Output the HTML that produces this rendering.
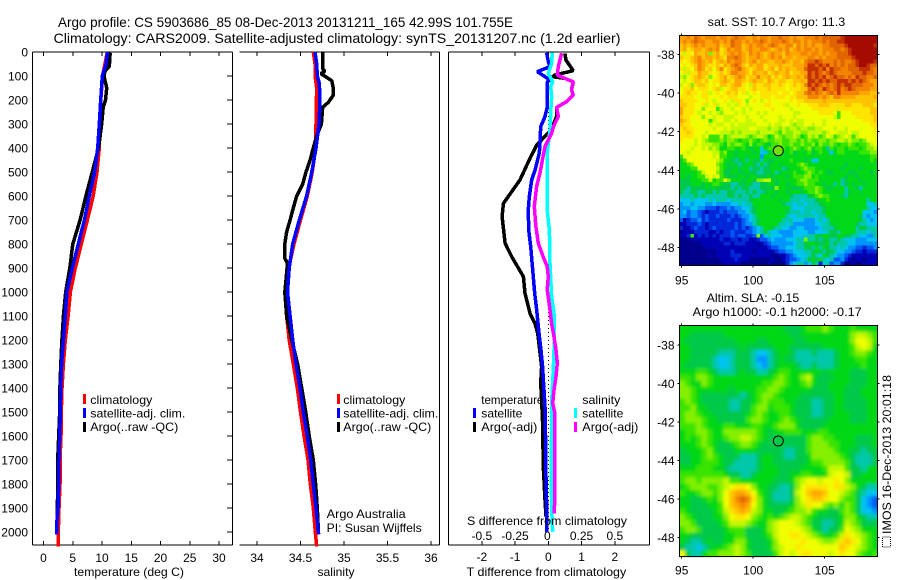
<!DOCTYPE html>
<html lang="en">
<head>
<meta charset="utf-8">
<title>Argo profile 5903686_85</title>
<style>
html,body{margin:0;padding:0;background:#fff;}
svg{display:block;font-family:"Liberation Sans",sans-serif;font-size:12px;fill:#000;}
</style>
</head>
<body>
<svg id="fig" width="900" height="580" viewBox="0 0 900 580" xmlns="http://www.w3.org/2000/svg">
  <defs>
    <filter id="soft" x="0" y="0" width="100%" height="100%" filterUnits="objectBoundingBox"><feGaussianBlur stdDeviation="1.5"/></filter>
  </defs>
  <rect x="0" y="0" width="900" height="580" fill="#fff"/>
  <text x="58" y="27" font-size="14" textLength="455" lengthAdjust="spacingAndGlyphs">Argo profile: CS 5903686_85 08-Dec-2013 20131211_165 42.99S 101.755E</text>
  <text x="53.5" y="43" font-size="14" textLength="567" lengthAdjust="spacingAndGlyphs">Climatology: CARS2009. Satellite-adjusted climatology: synTS_20131207.nc (1.2d earlier)</text>

  <g id="sst-map"></g>
  <g id="sla-map"></g>
  <g id="panels"></g>

  <text x="129" y="576" text-anchor="middle" textLength="110" lengthAdjust="spacingAndGlyphs">temperature (deg C)</text>
  <text x="336" y="576" text-anchor="middle" textLength="37" lengthAdjust="spacingAndGlyphs">salinity</text>
  <text x="466.7" y="576" textLength="159.5" lengthAdjust="spacingAndGlyphs">T difference from climatology</text>
  <text x="467" y="525" textLength="160" lengthAdjust="spacingAndGlyphs">S difference from climatology</text>

  <g>
    <rect x="83" y="394" width="3" height="10" fill="#ff0000"/>
    <text x="90.3" y="404" textLength="62" lengthAdjust="spacingAndGlyphs">climatology</text>
    <rect x="83" y="408" width="3" height="10" fill="#0000ff"/>
    <text x="90.3" y="417.5" textLength="95" lengthAdjust="spacingAndGlyphs">satellite-adj. clim.</text>
    <rect x="83" y="422" width="3" height="10" fill="#000"/>
    <text x="90.3" y="431" textLength="88" lengthAdjust="spacingAndGlyphs">Argo(..raw -QC)</text>
  </g>
  <g>
    <rect x="337" y="394" width="3" height="10" fill="#ff0000"/>
    <text x="343.3" y="404" textLength="62" lengthAdjust="spacingAndGlyphs">climatology</text>
    <rect x="337" y="408" width="3" height="10" fill="#0000ff"/>
    <text x="343.3" y="417.5" textLength="95" lengthAdjust="spacingAndGlyphs">satellite-adj. clim.</text>
    <rect x="337" y="422" width="3" height="10" fill="#000"/>
    <text x="343.3" y="431" textLength="88" lengthAdjust="spacingAndGlyphs">Argo(..raw -QC)</text>
    <text x="326.7" y="518" textLength="79" lengthAdjust="spacingAndGlyphs">Argo Australia</text>
    <text x="326.7" y="532" textLength="95" lengthAdjust="spacingAndGlyphs">PI: Susan Wijffels</text>
  </g>
  <g id="diff-legend">
    <text x="481.3" y="404" textLength="62" lengthAdjust="spacingAndGlyphs">temperature</text>
    <rect x="473" y="408" width="3" height="10" fill="#0000ff"/>
    <text x="481.3" y="417.5" textLength="41" lengthAdjust="spacingAndGlyphs">satellite</text>
    <rect x="473" y="422" width="3" height="10" fill="#000"/>
    <text x="481.3" y="431" textLength="56" lengthAdjust="spacingAndGlyphs">Argo(-adj)</text>
    <text x="582.3" y="404" textLength="38" lengthAdjust="spacingAndGlyphs">salinity</text>
    <rect x="574" y="408" width="3" height="10" fill="#00ffff"/>
    <text x="582.3" y="417.5" textLength="41" lengthAdjust="spacingAndGlyphs">satellite</text>
    <rect x="574" y="422" width="3" height="10" fill="#ff00ff"/>
    <text x="582.3" y="431" textLength="56" lengthAdjust="spacingAndGlyphs">Argo(-adj)</text>
  </g>

  <text x="707.7" y="26" textLength="137.5" lengthAdjust="spacingAndGlyphs">sat. SST: 10.7 Argo: 11.3</text>
  <text x="706.7" y="302" textLength="92.5" lengthAdjust="spacingAndGlyphs">Altim. SLA: -0.15</text>
  <text x="692.7" y="316" textLength="169" lengthAdjust="spacingAndGlyphs">Argo h1000: -0.1 h2000: -0.17</text>

  <g>
    <rect x="882.5" y="537" width="8" height="10" fill="none" stroke="#000" stroke-width="1" stroke-dasharray="1 1" shape-rendering="crispEdges"/>
    <text transform="translate(891,534) rotate(-90)" textLength="159" lengthAdjust="spacingAndGlyphs">IMOS 16-Dec-2013 20:01:18</text>
  </g>
</svg>
<script>
/* ---------- temperature panel ---------- */
const tempClimDepth = [0,100,200,300,400,500,600,700,800,900,1000,1100,1200,1300,1400,1500,1600,1700,1800,1900,2000,2060];
const tempClimValues = [10.9,10.1,9.8,9.66,9.54,9.15,8.5,7.5,6.46,5.44,4.6,4.2,3.73,3.4,3.16,3.05,3.0,2.82,2.82,2.65,2.53,2.5];
const tempSatDepth = [0,50,100,200,300,400,500,600,700,800,900,1000,1100,1200,1300,1400,1500,1600,1700,1800,1900,1950,2010];
const tempSatValues = [10.9,10.7,10.05,9.78,9.54,9.26,8.75,7.83,7.0,5.95,4.93,4.0,3.73,3.4,3.1,2.94,2.87,2.77,2.65,2.6,2.48,2.3,2.28];
const tempArgoDepth = [3,60,80,100,150,200,230,300,400,500,600,700,800,900,1000,1100,1200,1300,1400,1500,1600,1700,1800,1900,1950];
const tempArgoValues = [11.4,11.25,10.5,10.35,10.8,10.6,10.2,9.95,9.4,8.35,7.25,6.25,5.0,4.5,3.8,3.4,3.15,2.95,2.8,2.77,2.6,2.43,2.42,2.37,2.35];

/* ---------- salinity panel ---------- */
const salClimDepth = [0,50,100,150,200,300,400,500,600,700,800,900,1000,1100,1200,1300,1400,1500,1600,1700,1800,1900,2000,2060];
const salClimValues = [34.647,34.667,34.667,34.686,34.683,34.678,34.675,34.636,34.578,34.5,34.425,34.364,34.35,34.34,34.37,34.417,34.463,34.5,34.54,34.586,34.613,34.647,34.67,34.686];
const salSatDepth = [0,50,100,130,200,300,400,500,600,700,800,900,1000,1100,1200,1300,1400,1500,1600,1700,1800,1900,2000,2010];
const salSatValues = [34.667,34.686,34.693,34.716,34.724,34.713,34.678,34.63,34.57,34.486,34.41,34.37,34.35,34.38,34.41,34.448,34.494,34.532,34.578,34.617,34.647,34.678,34.705,34.71];
const salArgoDepth = [3,70,80,90,120,150,180,210,230,300,350,400,450,500,550,600,650,700,750,800,860,880,950,1000,1050,1100,1200,1300,1400,1500,1600,1700,1800,1900,1990];
const salArgoValues = [34.755,34.755,34.78,34.735,34.86,34.877,34.877,34.82,34.755,34.74,34.686,34.647,34.61,34.563,34.525,34.456,34.417,34.38,34.34,34.32,34.32,34.35,34.333,34.32,34.33,34.34,34.4,34.467,34.514,34.56,34.6,34.647,34.674,34.693,34.705];

/* ---------- difference panel ---------- */
const dTempSatDepth = [3,40,61,82,100,117,124,172,228,269,311,380,422,492,533,603,658,742,811,908,1006,1075,1172,1242,1311,1408,1478,1617,1769,1881,1999];
const dTempSatValues = [-0.05,0,0.05,-0.33,-0.13,0.05,-0.03,-0.03,-0.03,-0.1,-0.23,-0.25,-0.27,-0.4,-0.5,-0.57,-0.6,-0.59,-0.53,-0.47,-0.41,-0.35,-0.28,-0.22,-0.17,-0.13,-0.1,-0.08,-0.07,-0.05,-0.05];
const dTempArgoDepth = [6,33,78,96,103,110,124,158,179,207,231,269,325,388,443,533,631,686,797,853,936,1006,1061,1089,1131,1172,1228,1311,1381,1450,1547,1728,1867,1936];
const dTempArgoValues = [0.5,0.53,0.75,0.2,0.13,0.5,0.75,0.7,0.75,0.55,0.25,0.25,0.08,-0.35,-0.55,-0.85,-1.35,-1.39,-1.3,-1.1,-0.75,-0.7,-0.6,-0.55,-0.4,-0.32,-0.27,-0.2,-0.23,-0.2,-0.17,-0.15,-0.1,-0.07];
const dSalSatDepth = [3,47,89,124,144,186,256,325,422,519,658,742,881,1019,1089,1242,1311,1464,1547,1686,1825,1936,1999];
const dSalSatValues = [0.03,0.025,0,0.033,0.018,0.025,0.018,0.013,-0.008,-0.008,-0.008,0.008,0.013,0.025,0.043,0.043,0.038,0.025,0.025,0.023,0.023,0.028,0.033];
const dSalArgoDepth = [5,61,96,110,124,158,179,207,231,269,311,339,394,505,561,644,728,797,853,894,936,992,1033,1075,1131,1186,1242,1297,1353,1408,1464,1505,1547,1686,1825,1922];
const dSalArgoValues = [0.1,0.075,0.068,0.125,0.188,0.175,0.188,0.138,0.063,0.075,0.038,0.025,-0.025,-0.063,-0.088,-0.105,-0.093,-0.075,-0.038,-0.008,0,-0.008,0.003,0.013,0.025,0.043,0.058,0.068,0.058,0.043,0.033,0.05,0.05,0.05,0.05,0.045];

/* ---------- tick labels ---------- */
const depthTicks = [0,100,200,300,400,500,600,700,800,900,1000,1100,1200,1300,1400,1500,1600,1700,1800,1900,2000];
const tempTicks = [0,5,10,15,20,25,30];
const salTicks = [34,34.5,35,35.5,36];
const dTempTicks = [-2,-1,0,1,2];
const dSalTicks = [-0.5,-0.25,0,0.25,0.5];
const lonTicks = [95,100,105];
const latTicks = [-38,-40,-42,-44,-46,-48];

/* ---------- maps: one letter per cell, a (lowest) .. t (highest) ---------- */
const sstRows = [
"ppqprqpqq qpqqpqrqq ppqpqqpqq rqqpqppqq qrqrrrrrs ttttttttt",
"pqpqrqqpp qqpqprqqp qpqqrqpqq qrqpqqpqp qqqrqrrss ttttttttt",
"opopqpqpp pqopprqqo pqpqqpqrq ppqqoqpqp qppqqrrrr sttttttts",
"opnoppopq pqnoqpqqo pqppqqpop qpqopqpqq pqpqqqrrq rsttttttt",
"nlnmpoopk opnopqpqp oqpqpopqp poqpppqqp qqpqpqqrr rsttttttt",
"onnopqopp oponqqrqp oppqpopqp qoppopppq qpqpqqqrr rrstttttt",
"nmnopqpop nopoqpqqp opqoppoop pqpoppoqr rsrqqqrqr qqrstttts",
"mnmnoqpon nonpoqrqo npoppnooo pooopppqs srsrsqrqr qrrsttsrr",
"nlnmoqpno moqnopqrp onoppnopn popoopprs ssrsqsrrq qrrrsssrq",
"mnlnnpoon mnonoqqpp onpoopnop oopnoopps rsrqrsrqq qqrrrsrrq",
"lkmnoponk mnopnopqp nooqoopno nopoopoqs rsrsqrsrr qrqsrrqqr",
"mlmnoonom nnoponppo nopoonpon oonnoopos srsrsrrss srsrsrqpp",
"lmnknoonm nmoonoppn mlonnoonn onmnonoqs rsrqrqrsr ssrrrqqqp",
"mnnomnnnm nolmnoonn mnonnnonn nnmnnnoor srqsrqrsq rsrqqqqpp",
"mnonnmnnl mnmnonomn lmnmnnnnn mnnmnooqr qrqpqrqsq qqqqpppoo",
"nnnnmmnnm mmnmnnnmm mlmmnnnmn nnmnnoooq qqpqpoqqp pppooooop",
"onnnnmmnm lmmnmlnnm kmnmlmnmm mmmnmnnoo ooopooooo ooooooooo",
"oonnmmnlm nlmmlmlnm lmmmmnnmm mnlmmnmmn nnooonnnn oonnnooon",
"pnnnmmkmm mjlmmlmml mlmmmmmnm mmmlmmmmm nnnnnnnnn nnnnnnnoo",
"pnnnmlmml mlkmmmlml mmmlmlmmm mmmmllmmm mmnnnnmjm mmnnnnnoo",
"onnmmmkmm lmmlllmmm lmmmlmmmm lmmmlmmmm mmmmmmljm mmmnnnnno",
"ponmmmmmj lmmllmlmm llmmmlmmm llmlmllmm mmmlmmmmm mmmmmnnno",
"onnmmmmml mllmmlmll lllmmmlml lmmlkllmm lmmlmmmmm mmmmmmmnn",
"nonnmmmmm lmmlmllll lmmlllkll klkllkllk kllmmmlmm lmmmmmmmn",
"nnonmmmlm mmlllklkl lllkllllk jlkkllkkl lllklmmll lmllmmmmm",
"nnnnmmlmj jjljkllll kjkllkijl kjkklkijl kljkmljkl mljlmmmmm",
"nmmmlmlkj jjkjkkjij jkjijkjjk kjjkkjkjk jjkkjkkll klkkjkmmm",
"mmmmlmlll kkjikjkkj ikijjihjj kjjkjjkjj kikjjkjij jkjijjklm",
"mmmlmmlmk lkiijjiij ihiifijjj ijijkjijk ijjigjijj ijjjijkkl",
"mmlmmmmmm lljkiihii iihiffhii jiijhiiij hijiifijj iiiijjjkk",
"jmmmmmmmm lmjjiihii hiiieiiih iiiiiiiii iiiiiiiii iiiiiiijj",
"ijmmmmmmm mlkiihghi gihhgihhi iiijiiihi ffiiiiiii iiiiiiiji",
"iijkmmmmm mkjihihgh iihgighii hiiiijkji iiiiiiiii hiiiiiiii",
"iiijjmmmm mljihhihi ighhghhii ighiiijkj jiiiiiiih iiiihiiii",
"iiiiijlmm mkjhhiihh ihhgghhig hiiijiijk jijihhiii ihhiiiihi",
"iihiijjlm lmjihhhii hiihhhihi iihijjjkk ijiiiiiii hiihiiiii",
"hhhiiijjl ijjmkiiih iihkkllih iiiiijkkj jjiiiiiig hiiihiiii",
"hhhiiihii jjihhgghh ihgghhiih iihiijjkj jiihiigig hihiihiii",
"hhghhhhih ihhhhghgh hggghhhhk iiihhhijj jkjihhiii giihgiiii",
"hgghhgghh ghgghhggg hghgghiih iihiiihij jkjiiiiii ghiihiiii",
"gggghghgg gggghhghg ghggiiihi iiihggggh ijkjjiiih giiiiiiii",
"fffgffffg fgggfgggg ghiiiiiii hiigggfgg ghiijiiii iiiiiigii",
"effefffee feeeeffgf ggiiiiiii ihggfggfg gghiiiiii iiiiiiffg",
"eeeffeedd dcddedeef fghiiiiii iiigfffgg ggghiiiii iiiiiigff",
"efdeedcbc ccdcdddee fghiiiiii iihgggfgg fgghiiiii iiiiifffe",
"eedeedcdc cdcccdcde efgiiiiii iigffgggg gfggiiiii iiiihfeff",
"dbcddecdc ccccdcccd efghiiiii igggfffee efgfgiiii iiiihgfef",
"bbcccdcbc ccccccdcd eeghiiiii ggfgeeeee effgghiii iiihggfff",
"cbbcdccbc dcccccdcd cdefgiihg gffeeffee eefggghii iiighhggg",
"abbbccccb bcbccdccc ddefghgff eeeeffffe efffghhgi iiigggfgg",
"bbcjbcbcb cbcccdcdd ccdkdfgff feeeffffg ghhiihhii hhggffeeg",
"aaabbbbbb bbcbbccbc cbbcddefe eefffggkg ghghhgghg fffeeefff",
"aaaaaabbb bbbccbccc bbbabcdee eeeefgghi ihhhighgg gffeeeeee",
"aaaaaaabb bbbbbbbbb bbbbbbcdd eefffgghh gigihggfg feeddcdde",
"aaaaaaaaa abbbbcbbb bbabbbbbc ddeefffgg hihghhgff eedccbccc",
"aaaaaaaab abbbbcccb bbbbbbbaa bbcdefffg hgfihgfee dcbbbbbbb",
"aaaaaaaaa aabbbbcbb baaaaaaba abcddefgh ihigfgdde cbabbabbb",
"aaaaaaaaa aaabbbbba aaaaaabaa aacefggef hgcfgdeec aabaabbbb"
];
const slaRows = [
"iiiiii iiiiii iiiiii ihhhij jjkjii ijiiii",
"iihhhh hhiiii iiiiii iihhii iiiiii ikllkj",
"ihhhhh hhhhii iihhii iiihhi iiiiii ikmmlj",
"iihhhh hhhhhi hhhhhi iihhhh hhiiii ijlmli",
"iihhhh hggghh hgffgh iihggg hggghi ijkkji",
"iihhhh gffghh hgeegh ihhggg gggghi iijjii",
"ihhhhh gffghh hgfegh iiihgg hggghi iiijii",
"iiijji hggghi hhgghi jjiiii iihiii ihhhii",
"jjikkj iiiiii iiiiij kjiikl ihhhii ihhhii",
"kjiikj iiiiii iiijjk kjiijk ihhiii ihhhii",
"kkjiii iiihii iijjkk jiiiii hhhiii hhhiii",
"kkjihh hhhhhg hijkkj iiiihh hhhhii hhhiii",
"jkjihh hhhggh hijkjj jiihhh gghhii hhhhii",
"jjkiih hhhggh hjkkij jjihhh gghhii hhhhii",
"jkkjii hhhhhh ijkjii jjihhh gghhii ihhhii",
"jkkkji ihhhhh jkkjii jkjihh hhhiii ihhhii",
"jjjkji iijjii ijjiij kkkihh hhiiii iiiiii",
"ijjkkj iikkkk kkjihi ijjjii ijjiii iiiiii",
"ijijkj iijkkl lkjihh hhhhhj kkjjii iihhhi",
"iiijkj ihhijk kjihhh hhhhhj kkkjji iihhhi",
"hiiijk ihhhii iihhhh hgghhj kkkkji ihhghh",
"hhiijk jihhhg gghiih hgghhi kkkkkj ihgggh",
"hhiijj jihhgg gghiih hhhhhi jjkkkk jhgggh",
"iiijjj iihggg gghiii hhhhii iijlll jhhgii",
"jjjjjj jjihhg ghiiii hhiijj iiilmm lhhiii",
"jkkjkk kkljji iiiiih hhiklm mlmmnm kiiiii",
"ijkkkj jklmnn mkiihh gghkmn nnnmnn lkihgg",
"jiijkk jkmopp omjihg gghlmo ppomml kjhgff",
"iihhij ikmoqr qnkihg gghkmn oonmmk jjhfed",
"iihhhi ijmopq pmkihh hhikln mmkjki kjhfed",
"jihhhh ijlnop olkiih hijkkl jiihhj kjhffe",
"kjihhh iikmnn mkjiji jkllkj ihhhhi kkihgg",
"kkjhhh hijlll kjiikl mmmlkj hhgghi lkjhhh",
"jkkjhh hhijjj hhhikl mmmmlk ihghhj mlkiii",
"iihhhh hhiijj hhhijl mmnnml kjiijl nmlkji",
"ihgghi hhiikk ihhhik mmmmnm mlkkln onmkji",
"hggfgh iijklk ihhhik lmmnmm mmmmmo nmlkji",
"mhggij jkkklk jhhhhj lmlmnn mmmlmn mmkjij"
];
const levelColors = {a:"#00008c",b:"#0000b4",c:"#0028d8",d:"#0058f4",e:"#0094ff",f:"#00c4f0",g:"#00c8a8",h:"#00c848",i:"#00d818",j:"#38e400",k:"#84f000",l:"#c4f800",m:"#f0ff00",n:"#ffe400",o:"#ffc400",p:"#ffa400",q:"#f48400",r:"#e06400",s:"#c43000",t:"#a40c00"};

const SVGNS = "http://www.w3.org/2000/svg";
function mk(parent, tag, attrs, txt){
  const el = document.createElementNS(SVGNS, tag);
  for(const k in attrs){ el.setAttribute(k, attrs[k]); }
  if(txt !== undefined){ el.textContent = txt; }
  parent.appendChild(el);
  return el;
}

/* axis functions */
const PANEL_TOP = 52, PANEL_BOTTOM = 545;
const LINE_WIDTH = 3.5;
const yDepth = d => 52 + 0.24 * d;
const xTemp = v => 43.5 + 5.85 * v;
const xSal = v => 257 + 87 * (v - 34);
const xDiffT = v => 548.3 + 33.25 * v;
const xDiffS = v => 548.3 + 133 * v;
const xLon = v => 681.7 + 14.3 * (v - 95);
const ySstLat = v => 54.3 + 19.33 * (-38 - v);
const ySlaLat = v => 345 + 19.23 * (-38 - v);

const panels = document.getElementById('panels');

function axisLine(x1, y1, x2, y2){
  const el = mk(panels, 'line', {x1:x1, y1:y1, x2:x2, y2:y2, stroke:'#000', 'stroke-width':1, 'shape-rendering':'crispEdges'});
  
  
}
function tickMark(x1, y1, x2, y2){
  const el = mk(panels, 'line', {x1:x1, y1:y1, x2:x2, y2:y2, stroke:'#000', 'stroke-width':1, 'shape-rendering':'crispEdges'});
  
  
}
function tickLabel(x, y, t, anchor){
  const el = mk(panels, 'text', {x:x, y:y, 'text-anchor':anchor}, String(t));
  
  
}
function series(name, depths, values, xf, color, width){
  const pts = depths.map((d, i) => xf(values[i]).toFixed(1) + ',' + yDepth(d).toFixed(1)).join(' ');
  const el = mk(panels, 'polyline', {points:pts, fill:'none', stroke:color, 'stroke-width':width, 'stroke-linejoin':'bevel', 'shape-rendering':'crispEdges'});
  
  
}

/* frames */
[[32.5,232.5],[239.5,439.5],[448.5,649.5]].forEach((p, i) => {
  axisLine(p[0], PANEL_TOP, p[1], PANEL_TOP);
  axisLine(p[0], PANEL_BOTTOM, p[1], PANEL_BOTTOM);
  axisLine(p[1], PANEL_TOP, p[1], PANEL_BOTTOM);
  if(i !== 1){ axisLine(p[0], PANEL_TOP, p[0], PANEL_BOTTOM); }
});

/* depth axis */
depthTicks.forEach(d => {
  tickMark(227, yDepth(d), 232, yDepth(d));
  tickLabel(28, yDepth(d) + 4.5, d, 'end');
});

/* x ticks */
function xTicks(ticks, xf, labelY){
  ticks.forEach(t => {
    tickMark(xf(t), PANEL_TOP, xf(t), PANEL_TOP + 4);
    tickMark(xf(t), PANEL_BOTTOM - 4, xf(t), PANEL_BOTTOM);
    tickLabel(xf(t), labelY, t, 'middle');
  });
}
xTicks(tempTicks, xTemp, 562);
xTicks(salTicks, xSal, 562);
xTicks(dTempTicks, xDiffT, 561);
dSalTicks.forEach(t => {
  tickLabel(xDiffS(t) - (t === 0 ? 1 : 0), 540, t, 'middle');
});

/* zero line */
const zeroLine = mk(panels, 'line', {x1:xDiffT(0), y1:PANEL_TOP, x2:xDiffT(0), y2:530, stroke:'#000', 'stroke-width':1, 'stroke-dasharray':'1 3', 'shape-rendering':'crispEdges'});



/* series */
series('temperature-climatology-line', tempClimDepth, tempClimValues, xTemp, '#ff0000', LINE_WIDTH);
series('temperature-argo-line', tempArgoDepth, tempArgoValues, xTemp, '#000000', LINE_WIDTH);
series('temperature-satellite-line', tempSatDepth, tempSatValues, xTemp, '#0000ff', LINE_WIDTH);
series('salinity-climatology-line', salClimDepth, salClimValues, xSal, '#ff0000', LINE_WIDTH);
series('salinity-argo-line', salArgoDepth, salArgoValues, xSal, '#000000', LINE_WIDTH);
series('salinity-satellite-line', salSatDepth, salSatValues, xSal, '#0000ff', LINE_WIDTH);
series('t-diff-argo-line', dTempArgoDepth, dTempArgoValues, xDiffT, '#000000', LINE_WIDTH);
series('t-diff-satellite-line', dTempSatDepth, dTempSatValues, xDiffT, '#0000ff', LINE_WIDTH);
series('s-diff-satellite-line', dSalSatDepth, dSalSatValues, xDiffS, '#00ffff', LINE_WIDTH);
series('s-diff-argo-line', dSalArgoDepth, dSalArgoValues, xDiffS, '#ff00ff', LINE_WIDTH);

/* maps */
function drawMap(groupId, rows, left, right, top, bottom, yLat, cellName, labelY, circleFill, soften){
  const g = document.getElementById(groupId);
  const cellsGroup = mk(g, 'g', {id: groupId + '-cells'});
  
  
  const parsed = rows.map(r => r.replace(/ /g, ''));
  const nr = parsed.length, nc = parsed[0].length;
  const cw = (right - left) / nc, ch = (bottom - top) / nr;
  parsed.forEach((row, r) => {
    for(let c = 0; c < nc; c++){
      const code = row[c] || row[row.length - 1];
      const cell = mk(cellsGroup, 'rect', {x:(left + c * cw).toFixed(2), y:(top + r * ch).toFixed(2), width:(cw + 0.4).toFixed(2), height:(ch + 0.4).toFixed(2), fill:levelColors[code], 'shape-rendering':'crispEdges'});
      
      
    }
  });
  if(soften){
    const softLayer = mk(g, 'use', {href:'#' + groupId + '-cells', filter:'url(#soft)'});
    
    
  }
  const frame = mk(g, 'rect', {x:left, y:top, width:right - left, height:bottom - top, fill:'none', stroke:'#000', 'stroke-width':1, 'shape-rendering':'crispEdges'});
  
  
  lonTicks.forEach(t => {
    const x = xLon(t);
    [[x, top - 2, x, top], [x, bottom, x, bottom + 2]].forEach(s => {
      const tk = mk(g, 'line', {x1:s[0], y1:s[1], x2:s[2], y2:s[3], stroke:'#000', 'shape-rendering':'crispEdges'});
      
      
    });
    const lab = mk(g, 'text', {x:x, y:labelY, 'text-anchor':'middle'}, String(t));
    
    
  });
  latTicks.forEach(t => {
    const y = yLat(t);
    [[left - 2, left], [right, right + 2]].forEach(s => {
      const tk = mk(g, 'line', {x1:s[0], y1:y, x2:s[1], y2:y, stroke:'#000', 'shape-rendering':'crispEdges'});
      
      
    });
    const lab = mk(g, 'text', {x:674.5, y:y + 4.5, 'text-anchor':'end'}, String(t));
    
    
  });
  const marker = mk(g, 'circle', {cx:xLon(101.755), cy:yLat(-42.99), r:5, fill:circleFill, stroke:'#000', 'stroke-width':1});
  
  
}
drawMap('sst-map', sstRows, 679.3, 877.3, 35.5, 265.5, ySstLat, 'sst-cell', 284.5, '#70e000', false);
drawMap('sla-map', slaRows, 679.3, 877.3, 325.7, 556.7, ySlaLat, 'sla-cell', 574.5, 'none', true);
</script>
</body>
</html>
